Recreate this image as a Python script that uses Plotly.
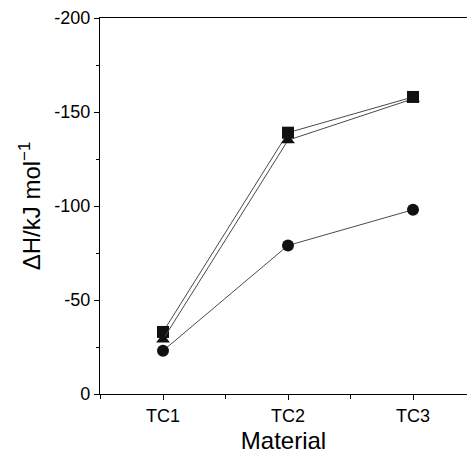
import plotly.graph_objects as go

categories = ["TC1", "TC2", "TC3"]
square_vals = [-33, -139, -158]
triangle_vals = [-29, -135, -157]
circle_vals = [-23, -79, -98]
y_ticks = [-200, -150, -100, -50, 0]
y_ticklabels = ["-200", "-150", "-100", "-50", "0"]

x = list(range(len(categories)))
font_family = "Liberation Sans, Arial, sans-serif"

fig = go.Figure()
series = [
    (square_vals, "square"),
    (triangle_vals, "triangle-up"),
    (circle_vals, "circle"),
]
for vals, sym in series:
    fig.add_trace(go.Scatter(
        x=x, y=vals, mode="lines+markers",
        line=dict(color="#4a4a4a", width=1),
        marker=dict(symbol=sym, size=12, color="#111111", line=dict(width=0)),
        showlegend=False, cliponaxis=False,
    ))

fig.update_layout(
    width=467, height=454,
    margin=dict(l=100, r=0, t=18, b=60),
    paper_bgcolor="white", plot_bgcolor="white",
    font=dict(family=font_family, color="black"),
)
fig.update_xaxes(
    range=[-0.504, 2.432],
    tickvals=x, ticktext=categories,
    ticks="outside", ticklen=5, tickwidth=1, tickcolor="black",
    minor=dict(tickvals=[-0.5, 0.5, 1.5], ticks="outside", ticklen=4, tickcolor="black", tickwidth=1),
    showline=True, linecolor="black", linewidth=1.2, mirror=True,
    showgrid=False, zeroline=False,
    tickfont=dict(size=18),
    title=dict(text="Material", font=dict(size=24), standoff=9),
)
fig.update_yaxes(
    range=[0, -200],
    tickvals=y_ticks, ticktext=y_ticklabels,
    ticks="outside", ticklen=5, tickwidth=1, tickcolor="black",
    minor=dict(tickvals=[-175, -125, -75, -25], ticks="outside", ticklen=3, tickcolor="black", tickwidth=1),
    showline=True, linecolor="black", linewidth=1.2, mirror=False,
    showgrid=False, zeroline=False,
    tickfont=dict(size=18),
    title=dict(text="ΔH/kJ mol<sup>−1</sup>", font=dict(size=24), standoff=6),
)

fig.write_html("out.html")
